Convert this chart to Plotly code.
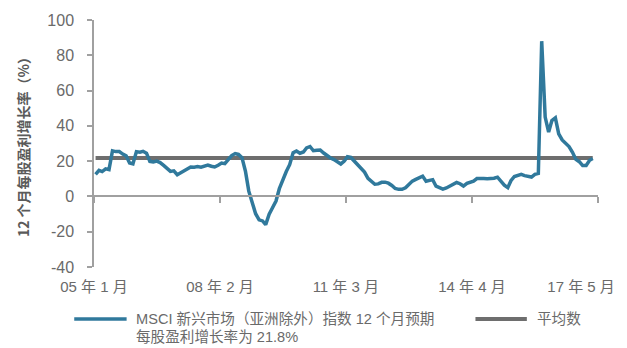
import pandas as pd
import plotly.graph_objects as go

# Monthly 12-month forward EPS growth, Jan 2005 - Mar 2017 (%)
eps_growth = [
    12.5, 14.8, 14.1, 15.6, 15.2, 25.8, 25.4, 25.4, 24.0, 23.0,
    19.0, 18.5, 25.4, 25.1, 25.6, 24.5, 19.9, 19.6, 20.0, 19.2,
    17.6, 15.6, 14.2, 14.5, 12.3, 13.4, 14.6, 15.6, 16.7, 16.6,
    16.9, 16.6, 17.3, 17.8, 17.1, 16.7, 17.7, 18.9, 18.6, 21.1,
    23.2, 24.3, 23.8, 22.0, 14.3, 3.0, -3.3, -9.8, -13.3, -13.9,
    -16.0, -10.1, -6.4, -2.6, 4.4, 9.7, 14.1, 18.0, 24.8, 25.7,
    24.5, 25.2, 27.5, 28.3, 25.9, 26.2, 26.3, 24.6, 23.1, 21.8,
    20.9, 19.8, 18.4, 20.0, 22.5, 22.1, 20.0, 17.9, 16.1, 13.8,
    10.3, 8.6, 6.9, 7.1, 8.0, 8.1, 7.5, 6.2, 4.5, 4.0,
    4.0, 4.9, 6.8, 8.7, 9.7, 10.6, 11.5, 8.6, 9.0, 9.5,
    5.8, 4.9, 4.1, 4.8, 5.8, 6.8, 7.9, 7.2, 5.9, 7.4,
    8.0, 8.7, 10.1, 10.3, 10.1, 10.0, 10.0, 10.3, 10.9, 8.5,
    6.4, 5.0, 8.9, 11.3, 11.9, 12.5, 11.8, 11.3, 11.0, 12.5,
    13.0, 88.0, 45.0, 36.5, 43.0, 44.5, 35.5, 32.0, 30.0, 28.3,
    25.0, 21.0, 19.7, 17.5, 17.5, 20.5, 21.5,
]
average_growth = 21.8

months = pd.date_range("2005-01-01", periods=len(eps_growth), freq="MS") + pd.Timedelta(days=14)
average_line = [average_growth] * len(eps_growth)

tick_dates = ["2005-01-01", "2008-02-01", "2011-03-01", "2014-04-01", "2017-05-01"]
label_dates = ["2005-01-01", "2008-02-01", "2011-03-01", "2014-04-01", "2016-12-01"]
tick_text = ["05 年 1 月", "08 年 2 月", "11 年 3 月", "14 年 4 月", "17 年 5 月"]
y_ticks = [100, 80, 60, 40, 20, 0, -20, -40]
y_tick_text = ["100", "80", "60", "40", "20", "0", "-20", "-40"]

series_label_1 = "MSCI 新兴市场（亚洲除外）指数 12 个月预期"
series_label_2 = "每股盈利增长率为 21.8%"
avg_name = "平均数"

BLUE = "#30799c"
GREY = "#6e6e6e"
AXIS = "#a0a0a0"
TEXT = "#6a6a6a"
FONT = "Liberation Sans, Noto Sans CJK SC, sans-serif"
x_range = ["2005-01-01", "2017-05-01"]

fig = go.Figure()
fig.add_trace(go.Scatter(x=months, y=average_line, mode="lines", name=avg_name,
                         line=dict(color=GREY, width=4), showlegend=False))
fig.add_trace(go.Scatter(x=months, y=eps_growth, mode="lines",
                         name=series_label_1 + series_label_2,
                         line=dict(color=BLUE, width=3.5), showlegend=False))
# invisible trace that carries the axis drawn at zero
fig.add_trace(go.Scatter(x=[months[0]], y=[None], xaxis="x2", showlegend=False,
                         hoverinfo="skip"))

fig.update_layout(
    width=627, height=348,
    margin=dict(l=94, r=23, t=15, b=81),
    paper_bgcolor="white", plot_bgcolor="white",
    font=dict(family=FONT, size=15, color=TEXT),
    xaxis=dict(range=x_range, type="date", tickmode="array",
               tickvals=label_dates, ticktext=tick_text,
               showline=False, showgrid=False, zeroline=False,
               ticks="", ticklabelstandoff=9,
               tickfont=dict(size=15, color=TEXT)),
    xaxis2=dict(range=x_range, type="date", overlaying="x", anchor="free",
                position=40 / 140, tickmode="array", tickvals=tick_dates,
                showticklabels=False, showline=True, linecolor=AXIS, linewidth=1.5,
                ticks="outside", ticklen=6, tickcolor=AXIS, tickwidth=1.5,
                showgrid=False, zeroline=False),
    yaxis=dict(range=[-40, 100], tickmode="array", tickvals=y_ticks,
               ticktext=y_tick_text,
               showline=True, linecolor=AXIS, linewidth=1.5,
               ticks="outside", ticklen=5, tickcolor=AXIS, tickwidth=1.5,
               ticklabelstandoff=10,
               showgrid=False, zeroline=False,
               tickfont=dict(size=16, color=TEXT),
               title=dict(text="12 个月每股盈利增长率（%）", standoff=14,
                          font=dict(size=14, color="#5a5a5a",
                                    family="Noto Sans CJK SC, sans-serif",
                                    weight="bold"))),
    showlegend=False,
)

# legend drawn beneath the plot
def px_x(p):
    return (p - 94) / 510

def px_y(p):
    return (267 - p) / 252

legend_lines = [
    (74, 127, BLUE, 3.5),
    (480, 532, GREY, 4),
]
for x0, x1, color, width in legend_lines:
    fig.add_shape(type="line", xref="paper", yref="paper",
                  x0=px_x(x0), x1=px_x(x1), y0=px_y(320), y1=px_y(320),
                  line=dict(color=color, width=width))

legend_texts = [
    (134, 320, series_label_1),
    (134, 338.5, series_label_2),
    (540, 320, avg_name),
]
for tx, ty, label in legend_texts:
    fig.add_annotation(xref="paper", yref="paper", x=px_x(tx), y=px_y(ty),
                       xanchor="left", yanchor="middle", align="left",
                       text=label, showarrow=False,
                       font=dict(size=14.6, color=TEXT, family=FONT))

fig.write_html("out.html")
